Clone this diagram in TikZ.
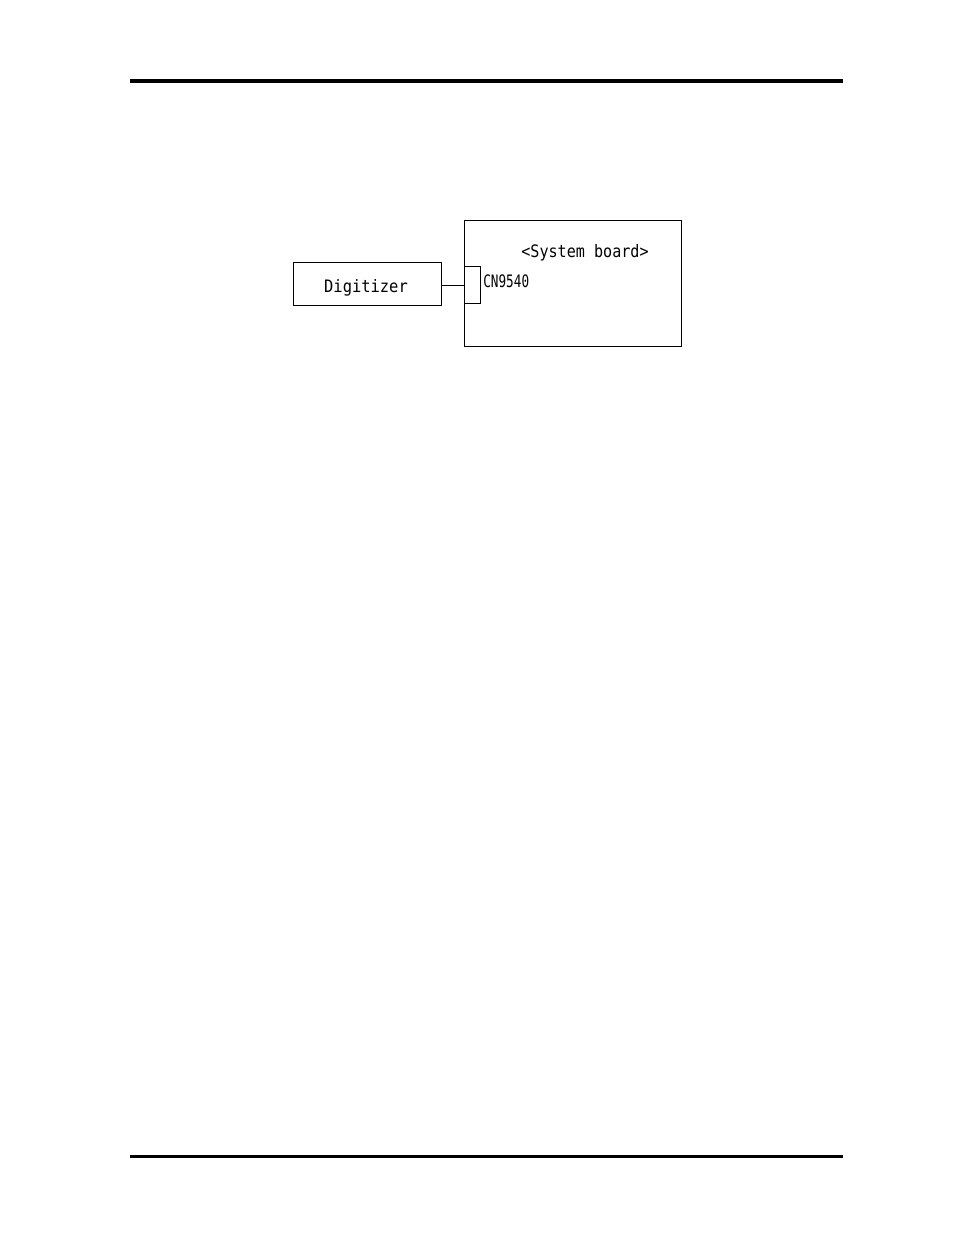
\documentclass[tikz,border=0pt]{standalone}
\usepackage{fontspec}
\newfontfamily\dmono{DejaVu Sans Mono}
\begin{document}
\begin{tikzpicture}[x=0.6415pt,y=-0.6415pt,
  boxline/.style={draw=black,line width=0.75pt,inner sep=0pt,anchor=north west},
  lbl/.style={font=\dmono\fontsize{11}{12}\selectfont,inner sep=0pt}]
\useasboundingbox[fill=white] (0,0) rectangle (954,1235);
% page rules
\coordinate (tl) at (130,81);
\coordinate (tr) at (843,81);
\coordinate (bl) at (130,1156.5);
\coordinate (br) at (843,1156.5);
\draw[line width=2.6pt] (tl) -- (tr);
\draw[line width=1.95pt] (bl) -- (br);
% boxes
\node[boxline,minimum width=94.94pt,minimum height=27.58pt] (dig) at (293,262) {};
\node[boxline,minimum width=139.2pt,minimum height=80.83pt] (sb) at (464,220) {};
\node[boxline,minimum width=10.26pt,minimum height=23.74pt] (cn) at (464,266) {};
\draw[line width=0.75pt] (dig.east |- cn.west) -- (cn.west);
% labels
\node[lbl,anchor=base] (digt) at (366,292) {\scalebox{0.9}[1]{Digitizer}};
\node[lbl,anchor=base] (sbt) at (585,257) {\scalebox{0.88}[1]{<System board>}};
\node[lbl,anchor=base west] (cnt) at (483,287) {\scalebox{0.74}[1]{CN9540}};
\end{tikzpicture}
\end{document}
